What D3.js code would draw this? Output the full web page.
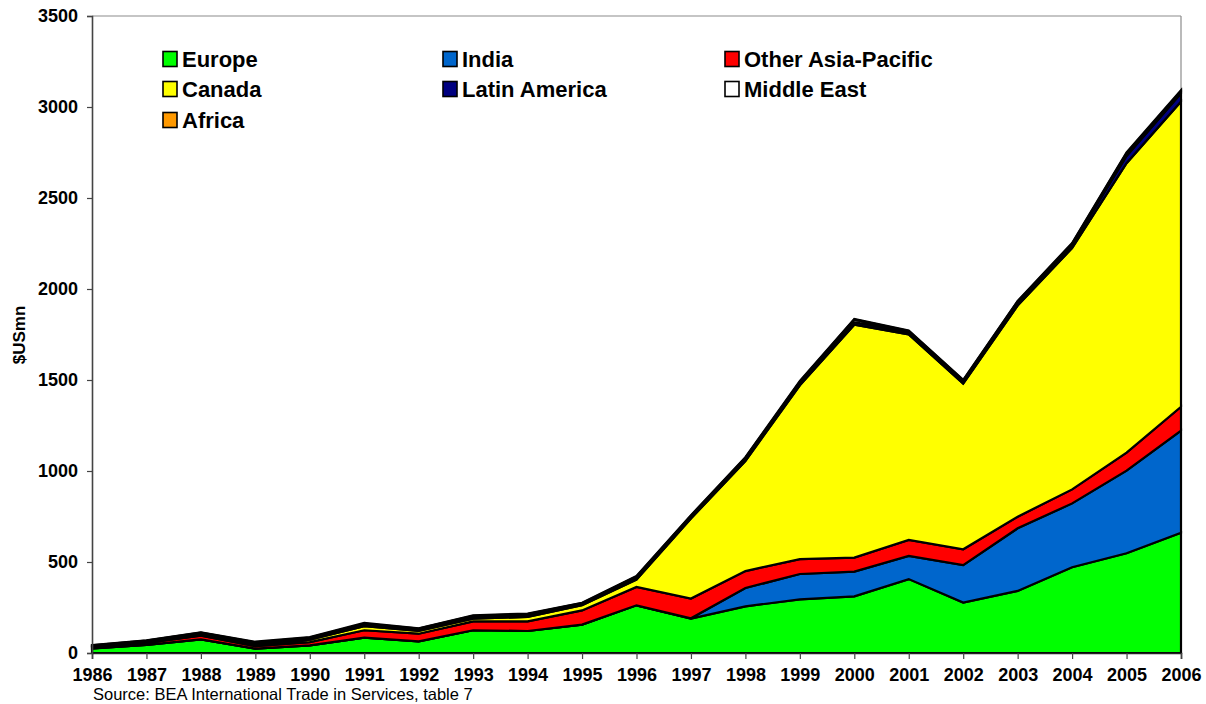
<!DOCTYPE html>
<html><head><meta charset="utf-8">
<script src="https://cdn.jsdelivr.net/npm/d3@7"></script>
<style>body{margin:0;background:#fff;} svg{display:block;font-family:"Liberation Sans",Arial,sans-serif;}</style>
</head><body>
<svg id="c" width="1206" height="704"></svg>
<script>
const years = [1986,1987,1988,1989,1990,1991,1992,1993,1994,1995,1996,1997,1998,1999,2000,2001,2002,2003,2004,2005,2006];
const europe   = [25,45,75,24,42,84,64,125,121,156,262,189,256,295,311,406,277,341,471,548,661];
const india    = [0,0,0,0,0,0,0,0,0,0,0,2,101,139,136,127,206,344,351,454,561];
const otherAP  = [8,10,20,13,18,41,42,49,53,78,101,108,93,82,77,88,87,64,77,99,131];
const canada   = [0,2,3,5,13,22,15,15,24,28,40,440,605,955,1280,1130,910,1160,1326,1590,1677];
const latAm    = [6,8,10,12,8,10,9,10,11,8,12,10,12,12,14,12,12,14,16,40,45];
const midEast  = [3,3,4,5,4,5,4,5,5,4,5,5,6,8,14,6,6,8,8,15,12];
const africa   = [2,2,2,3,2,3,2,3,3,2,3,3,3,4,4,3,3,4,4,5,6];
const seriesNames = ["Europe","India","Other Asia-Pacific","Canada","Latin America","Middle East","Africa"];
const seriesColors = ["#00ff00","#0066cc","#ff0000","#ffff00","#000080","#ffffff","#ff9900"];
const yTicks = [0,500,1000,1500,2000,2500,3000,3500];

const allSeries = [europe,india,otherAP,canada,latAm,midEast,africa];
const rows = years.map((y,i)=>{const r={year:y}; seriesNames.forEach((n,k)=>r[n]=allSeries[k][i]); return r;});

const svg = d3.select("#c");
const L=92,R=1181,T=16,B=653;
const x = d3.scaleLinear().domain([1986,2006]).range([L,R]);
const y = d3.scaleLinear().domain([0,3500]).range([B,T]);

const stack = d3.stack().keys(seriesNames)(rows);
const area = d3.area().x(d=>x(d.data.year)).y0(d=>y(d[0])).y1(d=>y(d[1]));

// frame
svg.append("line").attr("x1",L).attr("x2",R).attr("y1",T).attr("y2",T).attr("stroke","#8c8c8c").attr("stroke-width",1.2);
svg.append("line").attr("x1",R).attr("x2",R).attr("y1",T).attr("y2",B).attr("stroke","#8c8c8c").attr("stroke-width",1.2);

svg.append("g").selectAll("path").data(stack).join("path")
  .attr("d",area).attr("fill",(d,i)=>seriesColors[i])
  .attr("stroke","#000").attr("stroke-width",2.2).attr("stroke-linejoin","miter");

// y axis
const ya = svg.append("g").attr("transform",`translate(${L},0)`)
  .call(d3.axisLeft(y).tickValues(yTicks).tickSize(5).tickPadding(9).tickFormat(d3.format("d")));
ya.select(".domain").attr("stroke","#444").attr("stroke-width",1.6);
ya.selectAll(".tick line").attr("stroke","#444").attr("stroke-width",1.2);
ya.selectAll("text").attr("font-size",18).attr("font-weight","bold").attr("fill","#000").attr("font-family","Liberation Sans, Arial, sans-serif");

// x axis
const xa = svg.append("g").attr("transform",`translate(0,${B})`)
  .call(d3.axisBottom(x).tickValues(years).tickSize(6).tickPadding(9).tickFormat(d3.format("d")));
xa.select(".domain").attr("stroke","#222").attr("stroke-width",1.6);
xa.selectAll(".tick line").attr("stroke","#444").attr("stroke-width",1.2);
xa.selectAll("text").attr("font-size",18).attr("font-weight","bold").attr("fill","#000").attr("font-family","Liberation Sans, Arial, sans-serif");

// y title
svg.append("text").attr("transform","translate(25,335) rotate(-90)").attr("text-anchor","middle")
  .attr("font-size",17).attr("font-weight","bold").text("$USmn");

// source
svg.append("text").attr("x",93).attr("y",700).attr("font-size",16.5).text("Source: BEA International Trade in Services, table 7");

// legend
const legX=[163,443,725], legY=[59,89,120];
const lg = svg.append("g").selectAll("g").data(seriesNames).join("g")
  .attr("transform",(d,i)=>`translate(${legX[i%3]},${legY[Math.floor(i/3)]})`);
lg.append("rect").attr("x",0).attr("y",-7.5).attr("width",14).attr("height",15)
  .attr("fill",(d,i)=>seriesColors[i]).attr("stroke","#000").attr("stroke-width",1.6);
lg.append("text").attr("x",19).attr("y",7.5).attr("font-size",22).attr("font-weight","bold").text(d=>d);
</script>
</body></html>
